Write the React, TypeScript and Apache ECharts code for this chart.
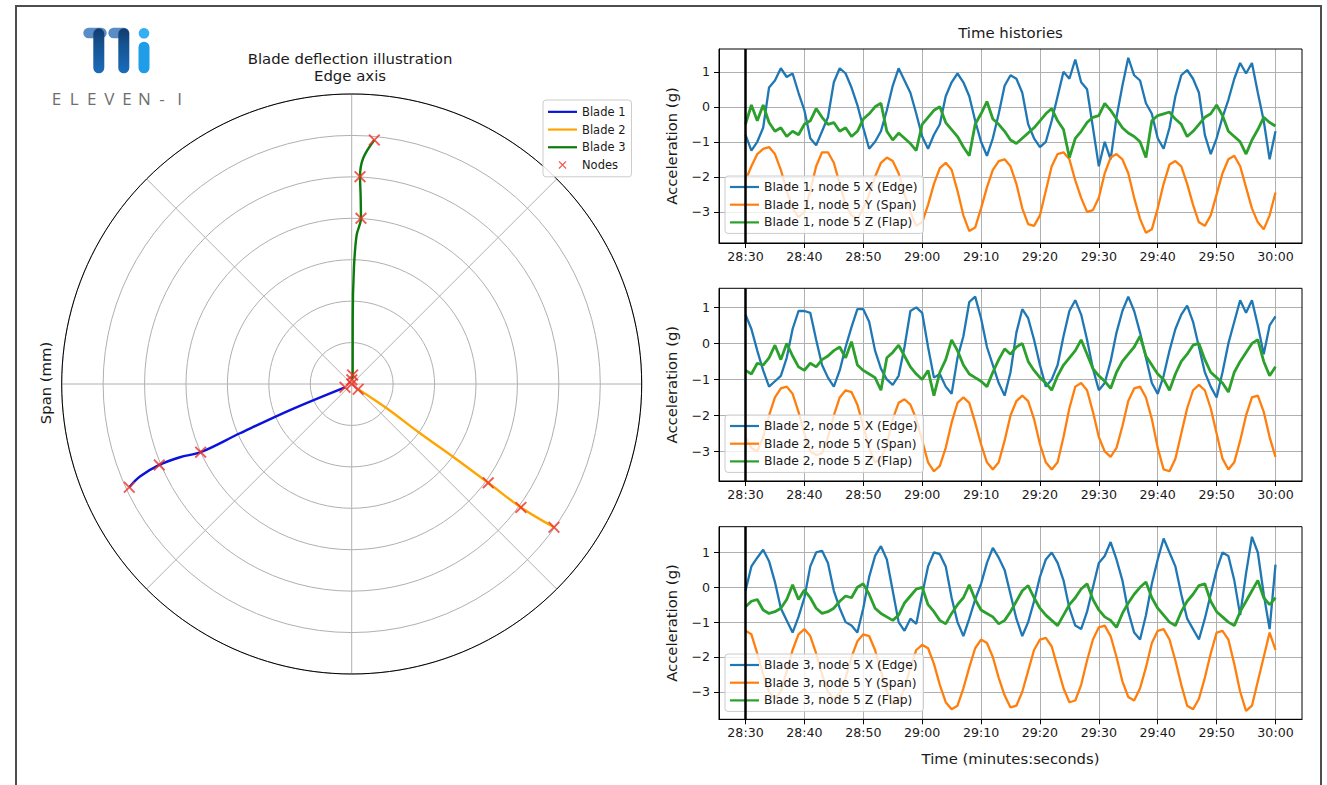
import React, { useEffect, useRef } from 'react';
import * as echarts from 'echarts';

const FONT = "'DejaVu Sans', 'Liberation Sans', sans-serif";
const TXT = '#1a1a1a';

// ---- time-history axis ticks ----
const xTickValues = [0, 10, 20, 30, 40, 50, 60, 70, 80, 90];
const xTickLabels = ['28:30', '28:40', '28:50', '29:00', '29:10', '29:20', '29:30', '29:40', '29:50', '30:00'];
const yTickValues = [-3, -2, -1, 0, 1];
const yTickLabels = ['−3', '−2', '−1', '0', '1'];

// sampling times (seconds after 28:30)
const times = Array.from({ length: 91 }, (_, i) => i);

// ---- Blade 1, node 5 ----
const b1X = [-0.8,-1.25,-1.0,-0.6,0.55,0.75,1.1,0.85,0.95,0.4,
  -0.1,-0.9,-1.1,-0.7,-0.3,0.7,1.1,0.95,0.55,0.05,
  -0.6,-1.2,-1.0,-0.7,-0.1,0.6,1.1,0.75,0.4,-0.2,
  -0.85,-1.2,-0.8,-0.5,0.3,0.7,0.95,0.7,0.3,-0.4,
  -1.0,-1.4,-0.9,-0.2,0.6,0.9,0.8,0.4,-0.5,-0.9,
  -1.15,-1.0,-0.4,0.3,1.0,0.8,1.35,0.7,0.5,-0.6,
  -1.7,-1.0,-1.5,-0.3,0.6,1.4,0.9,0.75,0.1,-0.2,
  -0.9,-1.2,-0.6,0.3,0.9,1.05,0.8,0.4,-0.8,-1.35,
  -0.9,-0.3,0.2,0.8,1.25,0.95,1.25,0.4,-0.4,-1.5,
  -0.7];
const b1Y = [-2.1,-1.7,-1.35,-1.2,-1.15,-1.35,-1.8,-2.4,-2.9,-3.15,
  -3.0,-2.4,-1.7,-1.3,-1.3,-1.6,-2.2,-2.8,-3.1,-3.2,
  -2.9,-2.5,-2.0,-1.6,-1.45,-1.55,-1.9,-2.5,-3.0,-3.4,
  -3.3,-2.8,-2.2,-1.75,-1.6,-1.8,-2.4,-3.1,-3.55,-3.45,
  -2.9,-2.3,-1.8,-1.55,-1.5,-1.7,-2.2,-2.9,-3.35,-3.4,
  -3.1,-2.4,-1.7,-1.35,-1.3,-1.5,-2.1,-2.6,-3.0,-2.95,
  -2.6,-1.9,-1.45,-1.35,-1.5,-1.9,-2.6,-3.2,-3.6,-3.5,
  -2.9,-2.2,-1.65,-1.55,-1.7,-2.2,-2.8,-3.3,-3.4,-3.1,
  -2.5,-1.9,-1.5,-1.4,-1.7,-2.3,-2.9,-3.3,-3.5,-3.1,
  -2.45];
const b1Z = [-0.5,0.05,-0.4,0.05,-0.45,-0.7,-0.6,-0.85,-0.7,-0.8,
  -0.5,-0.4,-0.05,-0.3,-0.5,-0.45,-0.7,-0.6,-0.85,-0.7,
  -0.35,-0.2,0.0,0.1,-0.7,-0.95,-0.75,-0.9,-1.05,-1.25,
  -0.5,-0.3,-0.1,0.0,-0.45,-0.65,-0.85,-1.15,-1.4,-0.5,
  -0.2,0.15,-0.35,-0.5,-0.7,-0.95,-1.05,-0.9,-0.75,-0.6,
  -0.4,-0.2,-0.05,-0.4,-0.65,-1.45,-0.9,-0.7,-0.45,-0.3,
  -0.25,0.1,-0.1,-0.35,-0.6,-0.75,-0.85,-1.0,-1.45,-0.4,
  -0.25,-0.2,-0.15,-0.35,-0.5,-0.85,-0.7,-0.5,-0.3,-0.2,
  0.05,-0.25,-0.7,-0.85,-1.0,-1.35,-0.95,-0.65,-0.3,-0.45,
  -0.55];

// ---- Blade 2, node 5 ----
const b2X = [0.8,0.4,-0.2,-0.75,-1.2,-1.05,-0.9,-0.4,0.4,0.9,
  0.9,0.85,0.1,-0.6,-0.95,-1.2,-0.75,-0.1,0.45,0.95,
  0.95,0.6,-0.2,-0.7,-1.0,-1.15,-0.9,-0.1,0.9,1.0,
  0.85,-0.1,-0.95,-0.85,-1.2,-1.4,-0.4,0.2,1.15,1.3,
  0.7,-0.1,-0.6,-1.1,-1.45,-0.8,0.3,0.95,0.7,0.1,
  -0.6,-1.2,-1.0,-0.6,0.2,0.9,1.2,0.8,0.1,-0.7,
  -1.3,-1.1,-0.5,0.3,0.9,1.3,0.9,0.3,-0.4,-1.1,
  -1.4,-0.9,-0.2,0.4,0.8,1.05,0.6,-0.1,-0.8,-1.2,
  -1.5,-0.8,0.0,0.6,1.2,0.85,1.2,0.5,-0.3,0.5,
  0.75];
const b2Y = [-2.6,-2.9,-3.0,-2.6,-2.0,-1.5,-1.25,-1.2,-1.4,-1.9,
  -2.5,-3.0,-3.1,-3.05,-2.6,-2.0,-1.5,-1.3,-1.35,-1.7,
  -2.3,-2.9,-3.3,-3.2,-2.8,-2.1,-1.65,-1.55,-1.7,-2.1,
  -2.7,-3.3,-3.55,-3.4,-2.9,-2.2,-1.65,-1.5,-1.65,-2.2,
  -2.8,-3.3,-3.5,-3.3,-2.7,-2.0,-1.6,-1.45,-1.6,-2.1,
  -2.8,-3.3,-3.5,-3.3,-2.6,-1.8,-1.2,-1.1,-1.3,-1.9,
  -2.6,-3.0,-3.15,-2.9,-2.3,-1.6,-1.25,-1.2,-1.5,-2.1,
  -2.9,-3.5,-3.55,-3.2,-2.5,-1.8,-1.3,-1.15,-1.3,-1.8,
  -2.5,-3.2,-3.5,-3.3,-2.7,-2.0,-1.5,-1.45,-1.9,-2.6,
  -3.15];
const b2Z = [-0.75,-0.85,-0.55,-0.6,-0.4,-0.05,-0.45,0.0,-0.35,-0.65,
  -0.75,-0.55,-0.65,-0.45,-0.35,-0.2,-0.1,-0.4,0.05,-0.6,
  -0.75,-0.85,-0.95,-1.3,-0.4,-0.25,-0.05,-0.35,-0.65,-0.85,
  -1.0,-0.75,-1.45,-0.8,-0.45,0.1,-0.2,-0.6,-0.85,-0.95,
  -1.05,-1.2,-0.8,-0.45,-0.15,-0.3,-0.1,0.0,-0.5,-0.75,
  -0.95,-1.1,-1.3,-0.9,-0.6,-0.4,-0.2,0.1,-0.3,-0.7,
  -0.9,-1.05,-1.25,-0.8,-0.5,-0.3,-0.1,0.2,-0.35,-0.6,
  -0.85,-1.0,-1.3,-0.85,-0.5,-0.3,-0.05,0.0,-0.45,-0.8,
  -0.95,-1.1,-1.35,-0.8,-0.5,-0.25,0.0,0.1,-0.5,-0.9,
  -0.65];

// ---- Blade 3, node 5 ----
const b3X = [-0.1,0.6,0.85,1.08,0.75,0.15,-0.6,-0.95,-1.3,-0.85,
  -0.3,0.6,1.0,1.05,0.7,-0.1,-0.6,-1.0,-1.1,-1.3,
  -0.6,0.3,0.9,1.18,0.8,-0.1,-1.0,-1.25,-0.9,-1.05,
  -0.2,0.6,1.0,0.95,0.6,-0.3,-1.0,-1.4,-0.9,-0.35,
  0.1,0.7,1.13,0.85,0.5,-0.2,-0.9,-1.4,-1.0,-0.4,
  0.3,0.8,1.0,0.7,0.2,-0.6,-1.1,-1.2,-0.7,0.0,
  0.7,0.9,1.3,0.8,0.2,-0.7,-1.3,-1.5,-0.8,0.1,
  0.8,1.4,1.0,0.6,-0.2,-0.9,-1.2,-1.5,-0.9,-0.2,
  0.5,1.0,0.9,0.2,-0.8,0.4,1.45,1.0,-0.2,-1.2,
  0.65];
const b3Y = [-1.25,-1.35,-1.9,-2.5,-3.0,-3.2,-3.0,-2.4,-1.8,-1.35,
  -1.2,-1.4,-1.9,-2.5,-3.0,-3.2,-3.05,-2.6,-2.0,-1.55,
  -1.35,-1.4,-1.8,-2.4,-3.0,-3.35,-3.3,-2.9,-2.3,-1.8,
  -1.65,-1.75,-2.2,-2.8,-3.3,-3.5,-3.4,-2.9,-2.3,-1.75,
  -1.5,-1.6,-2.0,-2.6,-3.1,-3.45,-3.4,-3.0,-2.4,-1.8,
  -1.5,-1.45,-1.7,-2.3,-2.9,-3.3,-3.25,-2.8,-2.1,-1.5,
  -1.15,-1.1,-1.4,-2.0,-2.7,-3.15,-3.25,-2.9,-2.3,-1.6,
  -1.25,-1.2,-1.5,-2.1,-2.8,-3.4,-3.5,-3.2,-2.6,-1.9,
  -1.3,-1.25,-1.5,-2.2,-3.0,-3.55,-3.4,-2.7,-2.0,-1.3,
  -1.8];
const b3Z = [-0.56,-0.4,-0.35,-0.65,-0.75,-0.7,-0.6,-0.35,0.07,-0.35,
  -0.08,-0.3,-0.6,-0.75,-0.7,-0.6,-0.4,-0.25,-0.3,0.0,
  0.1,-0.2,-0.6,-0.75,-0.85,-0.95,-0.8,-0.45,-0.25,-0.05,
  0.0,-0.5,-0.7,-0.95,-1.05,-0.75,-0.5,-0.3,0.07,-0.35,
  -0.65,-0.75,-0.85,-1.05,-0.95,-0.7,-0.4,-0.1,0.05,-0.3,
  -0.6,-0.8,-0.95,-1.1,-0.8,-0.5,-0.3,-0.05,0.1,-0.35,
  -0.65,-0.85,-0.95,-1.15,-0.75,-0.45,-0.2,0.0,0.15,-0.3,
  -0.6,-0.8,-1.0,-1.1,-0.7,-0.4,-0.2,0.05,0.1,-0.4,
  -0.7,-0.85,-1.0,-1.1,-0.7,-0.4,-0.1,0.2,-0.3,-0.5,
  -0.3];

// ---- polar deflection: [radius, angle(deg)] ----
const blade1Line = [[0.18,206.2],[1.616,202.9],[2.947,203.8],[4.0,204.3],[4.506,203.1],[5.039,202.8],[5.578,203.6],[5.919,204.9]];
const blade2Line = [[0.204,321.2],[1.028,325.2],[2.033,324.2],[3.071,324.3],[4.068,324.1],[5.055,323.9],[5.983,324.7]];
const blade3Line = [[0.1,88],[0.218,83.7],[1.586,89.1],[2.793,88.9],[3.598,88.1],[4.005,86.8],[4.567,87.3],[5.008,87.7],[5.455,87.1],[5.915,84.7]];
const nodes = [[0,0],[0.1,88],[0.218,84],[4.005,86.8],[5.008,87.7],[5.915,84.7],
  [0.18,206],[4.0,204.3],[5.039,202.8],[5.919,204.9],
  [0.2,321],[4.068,324.1],[5.055,323.9],[5.983,324.7]];

const bladeNames = ['Blade 1', 'Blade 2', 'Blade 3'];
const bladeColors = ['#0a12dc', '#ffa500', '#0a7a0a'];
const tsColors = ['#1f77b4', '#ff7f0e', '#2ca02c'];
const tsData = [[b1X, b1Y, b1Z], [b2X, b2Y, b2Z], [b3X, b3Y, b3Z]];
const compNames = ['X (Edge)', 'Y (Span)', 'Z (Flap)'];

const grids = [
  { top: 49, height: 194, ymin: -3.89, ymax: 1.65, legendTop: 176 },
  { top: 288.3, height: 192.7, ymin: -3.82, ymax: 1.53, legendTop: 415 },
  { top: 526.7, height: 192.6, ymin: -3.79, ymax: 1.74, legendTop: 654 },
];

const X_PATH = 'path://M0,1.1L1.1,0L5,3.9L8.9,0L10,1.1L6.1,5L10,8.9L8.9,10L5,6.1L1.1,10L0,8.9L3.9,5Z';
const LINE_ICON = 'path://M0,0H29V2.2H0Z';

const near = (a: number, b: number) => Math.abs(a - b) < 1e-6;
const fmtX = (v: number) => {
  const i = xTickValues.findIndex((t) => near(t, v));
  return i >= 0 ? xTickLabels[i] : '';
};
const fmtY = (v: number) => {
  const i = yTickValues.findIndex((t) => near(t, v));
  return i >= 0 ? yTickLabels[i] : '';
};

function buildOption() {
  const series: any[] = [];
  // polar
  bladeNames.forEach((name, i) => {
    series.push({
      name, type: 'line', coordinateSystem: 'polar', polarIndex: 0,
      data: [blade1Line, blade2Line, blade3Line][i], smooth: 0.35, symbol: 'none',
      lineStyle: { color: bladeColors[i], width: 2.4 }, itemStyle: { color: bladeColors[i] },
      z: 3, silent: true,
    });
  });
  series.push({
    name: 'Nodes', type: 'scatter', coordinateSystem: 'polar', polarIndex: 0,
    data: nodes, symbol: X_PATH, symbolSize: 12,
    itemStyle: { color: '#ec3124' }, z: 4, silent: true,
  });

  const legends: any[] = [{
    data: [
      ...bladeNames.map((n) => ({ name: n, icon: LINE_ICON })),
      { name: 'Nodes', icon: X_PATH },
    ],
    orient: 'vertical', left: 543, top: 100,
    itemWidth: 29, itemHeight: 8, itemGap: 4, padding: [5, 6, 5, 5],
    backgroundColor: 'rgba(255,255,255,0.85)', borderColor: '#cccccc', borderWidth: 1, borderRadius: 3,
    textStyle: { fontSize: 11.5, color: TXT, fontFamily: FONT, lineHeight: 13.7 }, selectedMode: false,
  }];

  const xAxes: any[] = [];
  const yAxes: any[] = [];
  const gridOpts: any[] = [];

  grids.forEach((g, gi) => {
    gridOpts.push({ left: 719, width: 583, top: g.top, height: g.height, show: true, borderColor: '#000', borderWidth: 1, z: 5, backgroundColor: 'transparent' });
    xAxes.push({
      type: 'value', gridIndex: gi, min: -4.5, max: 94.5, splitNumber: 10, minInterval: 10, maxInterval: 10,
      axisLine: { show: true, onZero: false, lineStyle: { color: '#000', width: 1 } },
      axisTick: { show: true, length: 5, lineStyle: { color: '#000' }, customValues: xTickValues },
      axisLabel: { show: true, margin: 7, fontSize: 12.6, color: TXT, fontFamily: FONT, formatter: fmtX, customValues: xTickValues },
      splitLine: { show: true, lineStyle: { color: '#b0b0b0', width: 1 } },
      name: gi === 2 ? 'Time (minutes:seconds)' : '', nameLocation: 'middle', nameGap: 32,
      nameTextStyle: { fontSize: 14.8, color: TXT, fontFamily: FONT },
    });
    yAxes.push({
      type: 'value', gridIndex: gi, min: g.ymin, max: g.ymax, splitNumber: 5, minInterval: 1, maxInterval: 1,
      axisLine: { show: true, onZero: false, lineStyle: { color: '#000', width: 1 } },
      axisTick: { show: true, length: 5, lineStyle: { color: '#000' }, customValues: yTickValues },
      axisLabel: { show: true, margin: 9, fontSize: 12.6, color: TXT, fontFamily: FONT, formatter: fmtY, customValues: yTickValues },
      splitLine: { show: true, lineStyle: { color: '#b0b0b0', width: 1 } },
      name: 'Acceleration (g)', nameLocation: 'middle', nameGap: 40, nameRotate: 90,
      nameTextStyle: { fontSize: 14.8, color: TXT, fontFamily: FONT },
    });
    const names: string[] = [];
    tsData[gi].forEach((vals, ci) => {
      const name = `Blade ${gi + 1}, node 5 ${compNames[ci]}`;
      names.push(name);
      const s: any = {
        name, type: 'line', xAxisIndex: gi, yAxisIndex: gi,
        data: times.map((t, k) => [t, vals[k]]), symbol: 'none', showSymbol: false,
        lineStyle: { color: tsColors[ci], width: ci === 2 ? 2.8 : 2.3 }, itemStyle: { color: tsColors[ci] },
        silent: true, z: 2 + ci * 0.1,
      };
      if (ci === 0) {
        s.markLine = {
          silent: true, symbol: ['none', 'none'], label: { show: false },
          lineStyle: { color: '#000', width: 2.5, type: 'solid' }, data: [{ xAxis: 0 }],
        };
      }
      series.push(s);
    });
    legends.push({
      data: names.map((n) => ({ name: n, icon: LINE_ICON })), orient: 'vertical', left: 725, top: g.legendTop,
      itemWidth: 29, itemHeight: 13, itemGap: 5.7, padding: [5, 6, 5, 5],
      backgroundColor: 'rgba(255,255,255,0.8)', borderColor: '#cccccc', borderWidth: 1, borderRadius: 3,
      textStyle: { fontSize: 12.3, color: TXT, fontFamily: FONT }, selectedMode: false,
    });
  });

  const stemGrad = () => new echarts.graphic.LinearGradient(0, 0, 0, 1, [
    { offset: 0, color: '#123b6c' }, { offset: 0.35, color: '#15528f' }, { offset: 1, color: '#1b6cbc' },
  ]);
  const logoLetters = 'ELEVEN-I'.split('');
  const graphic: any[] = [
    { type: 'polyline', shape: { points: [[16, 800], [16, 6], [1321, 6], [1321, 800]] }, style: { stroke: '#4d4d4d', lineWidth: 2, fill: 'none' }, silent: true },
    // logo
    { type: 'rect', shape: { x: 83.3, y: 27.7, width: 23.4, height: 10.6, r: 5.3 }, style: { fill: '#5a8cc6' }, silent: true },
    { type: 'rect', shape: { x: 108.3, y: 27.7, width: 21, height: 10.6, r: 5.3 }, style: { fill: '#5a8cc6' }, silent: true },
    { type: 'rect', shape: { x: 93.3, y: 28.3, width: 11, height: 45, r: 5.5 }, style: { fill: stemGrad() }, silent: true },
    { type: 'rect', shape: { x: 118.3, y: 28.3, width: 11, height: 45, r: 5.5 }, style: { fill: stemGrad() }, silent: true },
    { type: 'circle', shape: { cx: 144, cy: 33.3, r: 5.3 }, style: { fill: '#35aef2' }, silent: true },
    { type: 'rect', shape: { x: 138.5, y: 41.7, width: 11, height: 31.6, r: 5.5 }, style: { fill: '#1f9de8' }, silent: true },
    ...logoLetters.map((ch, i) => ({
      type: 'text', x: 56.5 + i * 17.6, y: 98.5,
      style: { text: ch, fill: '#6e6e6e', font: "17px 'Open Sans', 'DejaVu Sans', sans-serif", align: 'center', verticalAlign: 'middle' },
      silent: true,
    })),
    // titles
    { type: 'text', x: 350, y: 59, style: { text: 'Blade deflection illustration', fill: TXT, font: `14.9px ${FONT}`, align: 'center', verticalAlign: 'middle' }, silent: true },
    { type: 'text', x: 350, y: 75.5, style: { text: 'Edge axis', fill: TXT, font: `14.9px ${FONT}`, align: 'center', verticalAlign: 'middle' }, silent: true },
    { type: 'text', x: 1010.5, y: 33, style: { text: 'Time histories', fill: TXT, font: `14.9px ${FONT}`, align: 'center', verticalAlign: 'middle' }, silent: true },
    { type: 'text', x: 45, y: 383, rotation: Math.PI / 2, style: { text: 'Span (mm)', fill: TXT, font: `14.8px ${FONT}`, align: 'center', verticalAlign: 'middle' }, silent: true },
  ];

  return {
    animation: false,
    backgroundColor: '#ffffff',
    polar: { center: [351.7, 384], radius: 290 },
    angleAxis: {
      type: 'value', polarIndex: 0, min: 0, max: 360, interval: 45, startAngle: 0, clockwise: false,
      axisLine: { show: true, lineStyle: { color: '#000', width: 1 } },
      axisTick: { show: false }, axisLabel: { show: false },
      splitLine: { show: true, lineStyle: { color: '#b0b0b0', width: 1 } },
    },
    radiusAxis: {
      type: 'value', polarIndex: 0, min: 0, max: 7, interval: 1,
      axisLine: { show: false }, axisTick: { show: false }, axisLabel: { show: false },
      splitLine: { show: true, lineStyle: { color: '#b0b0b0', width: 1 } },
    },
    grid: gridOpts,
    xAxis: xAxes,
    yAxis: yAxes,
    legend: legends,
    series,
    graphic,
  };
}

export default function App() {
  const ref = useRef<HTMLDivElement>(null);
  useEffect(() => {
    if (!ref.current) return;
    const chart = echarts.init(ref.current, null, { renderer: 'svg' });
    chart.setOption(buildOption() as any);
    return () => chart.dispose();
  }, []);
  return (
    <div
      ref={ref}
      style={{ position: 'absolute', left: 0, top: 0, width: 1327, height: 785, background: '#ffffff' }}
    />
  );
}
